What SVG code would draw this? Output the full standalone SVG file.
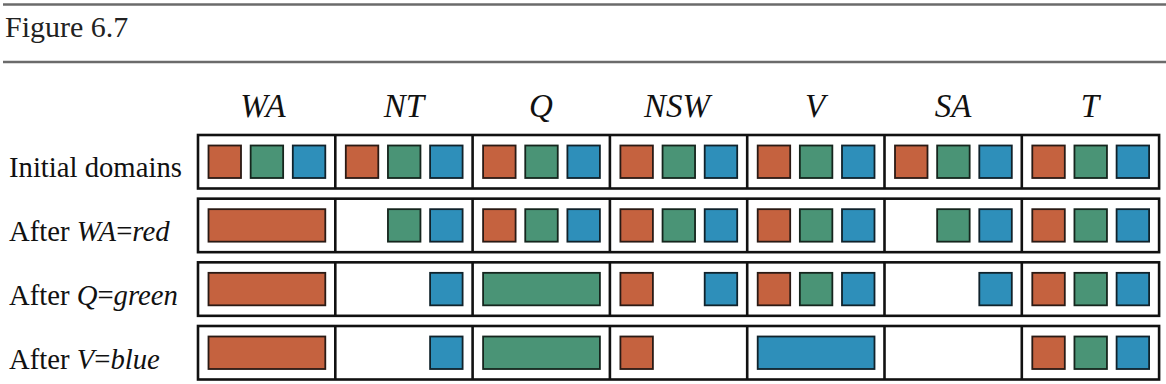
<svg xmlns="http://www.w3.org/2000/svg" width="1166" height="384" viewBox="0 0 1166 384">
<style>
.rule{stroke:#6b6b6b;stroke-width:2.5;fill:none}
.title{font-family:"Liberation Serif","Times New Roman",serif;font-size:30px;fill:#222}
.hdr{font-family:"Liberation Serif","Times New Roman",serif;font-style:italic;font-size:33px;fill:#111;text-anchor:middle}
.lbl{font-family:"Liberation Serif","Times New Roman",serif;font-size:28.7px;fill:#111}
.it{font-style:italic}
.row{fill:#fff;stroke:#111;stroke-width:2.6}
.div{stroke:#111;stroke-width:2.6}
.r{fill:#c5623f;stroke:#2a1a14;stroke-width:1.8}
.g{fill:#4a9476;stroke:#15251d;stroke-width:1.8}
.b{fill:#2e8fba;stroke:#10222b;stroke-width:1.8}
</style>
<line class="rule" x1="3" y1="4.5" x2="1166" y2="4.5"/>
<line class="rule" x1="3" y1="62" x2="1166" y2="62"/>
<text class="title" x="5" y="37">Figure 6.7</text>
<g id="headers">
<text class="hdr" x="263" y="117">WA</text>
<text class="hdr" x="404" y="117">NT</text>
<text class="hdr" x="541" y="117">Q</text>
<text class="hdr" x="677" y="117">NSW</text>
<text class="hdr" x="815" y="117">V</text>
<text class="hdr" x="953" y="117">SA</text>
<text class="hdr" x="1090" y="117">T</text>
</g>
<g id="labels">
<text class="lbl" x="9" y="177">Initial domains</text>
<text class="lbl" x="9" y="241">After <tspan class="it">WA</tspan>=<tspan class="it">red</tspan></text>
<text class="lbl" x="9" y="305">After <tspan class="it">Q</tspan>=<tspan class="it">green</tspan></text>
<text class="lbl" x="9" y="369">After <tspan class="it">V</tspan>=<tspan class="it">blue</tspan></text>
</g>
<g id="row1">
<rect class="row" x="198" y="135" width="961.1" height="53.5"/>
<path class="div" d="M335.3 135V188.5M472.6 135V188.5M609.9 135V188.5M747.2 135V188.5M884.5 135V188.5M1021.8 135V188.5"/>
<rect class="r" x="208.5" y="145.5" width="32.5" height="32.5"/><rect class="g" x="250.65" y="145.5" width="32.5" height="32.5"/><rect class="b" x="292.8" y="145.5" width="32.5" height="32.5"/>
<rect class="r" x="345.8" y="145.5" width="32.5" height="32.5"/><rect class="g" x="387.95" y="145.5" width="32.5" height="32.5"/><rect class="b" x="430.1" y="145.5" width="32.5" height="32.5"/>
<rect class="r" x="483.1" y="145.5" width="32.5" height="32.5"/><rect class="g" x="525.25" y="145.5" width="32.5" height="32.5"/><rect class="b" x="567.4" y="145.5" width="32.5" height="32.5"/>
<rect class="r" x="620.4" y="145.5" width="32.5" height="32.5"/><rect class="g" x="662.55" y="145.5" width="32.5" height="32.5"/><rect class="b" x="704.7" y="145.5" width="32.5" height="32.5"/>
<rect class="r" x="757.7" y="145.5" width="32.5" height="32.5"/><rect class="g" x="799.85" y="145.5" width="32.5" height="32.5"/><rect class="b" x="842" y="145.5" width="32.5" height="32.5"/>
<rect class="r" x="895" y="145.5" width="32.5" height="32.5"/><rect class="g" x="937.15" y="145.5" width="32.5" height="32.5"/><rect class="b" x="979.3" y="145.5" width="32.5" height="32.5"/>
<rect class="r" x="1032.3" y="145.5" width="32.5" height="32.5"/><rect class="g" x="1074.45" y="145.5" width="32.5" height="32.5"/><rect class="b" x="1116.6" y="145.5" width="32.5" height="32.5"/>
</g>
<g id="row2">
<rect class="row" x="198" y="198.67" width="961.1" height="53.5"/>
<path class="div" d="M335.3 198.67V252.17M472.6 198.67V252.17M609.9 198.67V252.17M747.2 198.67V252.17M884.5 198.67V252.17M1021.8 198.67V252.17"/>
<rect class="r" x="208.5" y="209.17" width="116.8" height="32.5"/>
<rect class="g" x="387.95" y="209.17" width="32.5" height="32.5"/><rect class="b" x="430.1" y="209.17" width="32.5" height="32.5"/>
<rect class="r" x="483.1" y="209.17" width="32.5" height="32.5"/><rect class="g" x="525.25" y="209.17" width="32.5" height="32.5"/><rect class="b" x="567.4" y="209.17" width="32.5" height="32.5"/>
<rect class="r" x="620.4" y="209.17" width="32.5" height="32.5"/><rect class="g" x="662.55" y="209.17" width="32.5" height="32.5"/><rect class="b" x="704.7" y="209.17" width="32.5" height="32.5"/>
<rect class="r" x="757.7" y="209.17" width="32.5" height="32.5"/><rect class="g" x="799.85" y="209.17" width="32.5" height="32.5"/><rect class="b" x="842" y="209.17" width="32.5" height="32.5"/>
<rect class="g" x="937.15" y="209.17" width="32.5" height="32.5"/><rect class="b" x="979.3" y="209.17" width="32.5" height="32.5"/>
<rect class="r" x="1032.3" y="209.17" width="32.5" height="32.5"/><rect class="g" x="1074.45" y="209.17" width="32.5" height="32.5"/><rect class="b" x="1116.6" y="209.17" width="32.5" height="32.5"/>
</g>
<g id="row3">
<rect class="row" x="198" y="262.33" width="961.1" height="53.5"/>
<path class="div" d="M335.3 262.33V315.83M472.6 262.33V315.83M609.9 262.33V315.83M747.2 262.33V315.83M884.5 262.33V315.83M1021.8 262.33V315.83"/>
<rect class="r" x="208.5" y="272.83" width="116.8" height="32.5"/>
<rect class="b" x="430.1" y="272.83" width="32.5" height="32.5"/>
<rect class="g" x="483.1" y="272.83" width="116.8" height="32.5"/>
<rect class="r" x="620.4" y="272.83" width="32.5" height="32.5"/><rect class="b" x="704.7" y="272.83" width="32.5" height="32.5"/>
<rect class="r" x="757.7" y="272.83" width="32.5" height="32.5"/><rect class="g" x="799.85" y="272.83" width="32.5" height="32.5"/><rect class="b" x="842" y="272.83" width="32.5" height="32.5"/>
<rect class="b" x="979.3" y="272.83" width="32.5" height="32.5"/>
<rect class="r" x="1032.3" y="272.83" width="32.5" height="32.5"/><rect class="g" x="1074.45" y="272.83" width="32.5" height="32.5"/><rect class="b" x="1116.6" y="272.83" width="32.5" height="32.5"/>
</g>
<g id="row4">
<rect class="row" x="198" y="326" width="961.1" height="53.5"/>
<path class="div" d="M335.3 326V379.5M472.6 326V379.5M609.9 326V379.5M747.2 326V379.5M884.5 326V379.5M1021.8 326V379.5"/>
<rect class="r" x="208.5" y="336.5" width="116.8" height="32.5"/>
<rect class="b" x="430.1" y="336.5" width="32.5" height="32.5"/>
<rect class="g" x="483.1" y="336.5" width="116.8" height="32.5"/>
<rect class="r" x="620.4" y="336.5" width="32.5" height="32.5"/>
<rect class="b" x="757.7" y="336.5" width="116.8" height="32.5"/>
<rect class="r" x="1032.3" y="336.5" width="32.5" height="32.5"/><rect class="g" x="1074.45" y="336.5" width="32.5" height="32.5"/><rect class="b" x="1116.6" y="336.5" width="32.5" height="32.5"/>
</g>
<g id="connectors"/>
</svg>
